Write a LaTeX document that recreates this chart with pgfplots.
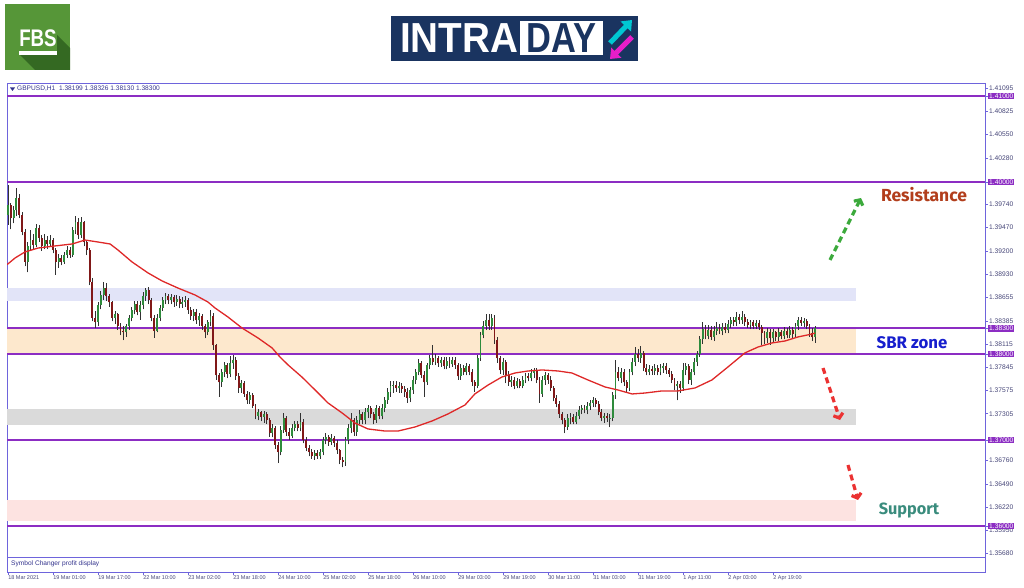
\documentclass[border=0pt]{standalone}
\usepackage{pgfplots}
\pgfplotsset{compat=1.18}
\usepackage{pgfplotstable}
\usepackage{fontspec}
\setmainfont{Liberation Sans}
\newfontfamily\annfont{Fira Sans}
\usetikzlibrary{arrows.meta}

\definecolor{framecol}{RGB}{110,100,220}
\definecolor{lvlcol}{RGB}{140,45,195}
\definecolor{lavband}{RGB}{226,228,248}
\definecolor{orband}{RGB}{253,232,205}
\definecolor{grband}{RGB}{218,218,218}
\definecolor{pkband}{RGB}{253,227,225}
\definecolor{bullcol}{RGB}{46,139,60}
\definecolor{bearcol}{RGB}{128,24,24}
\definecolor{wickcol}{RGB}{50,50,50}
\definecolor{macol}{RGB}{222,40,40}
\definecolor{tickcol}{RGB}{70,70,120}
\definecolor{rescol}{RGB}{178,62,28}
\definecolor{sbrcol}{RGB}{22,30,205}
\definecolor{supcol}{RGB}{58,140,125}
\definecolor{fbsgreen}{RGB}{86,150,56}
\definecolor{fbsdark}{RGB}{52,105,34}
\definecolor{navyb}{RGB}{26,52,96}
\definecolor{cyanar}{RGB}{0,200,210}
\definecolor{magar}{RGB}{230,30,200}
\definecolor{hdrcol}{RGB}{50,50,140}
\definecolor{arrgreen}{RGB}{60,170,60}
\definecolor{arrred}{RGB}{235,50,50}

\pgfplotstableread{
o h l c
1.3962 1.3997 1.3950 1.3973
1.3973 1.3975 1.3945 1.3958
1.3958 1.3972 1.3952 1.3967
1.3967 1.3993 1.3960 1.3981
1.3981 1.3986 1.3958 1.3962
1.3962 1.3965 1.3938 1.3942
1.3942 1.3945 1.3902 1.3907
1.3907 1.3930 1.3895 1.3925
1.3925 1.3944 1.3920 1.3933
1.3933 1.3940 1.3922 1.3927
1.3927 1.3951 1.3924 1.3947
1.3947 1.3950 1.3930 1.3935
1.3935 1.3938 1.3920 1.3926
1.3926 1.3940 1.3922 1.3933
1.3933 1.3937 1.3922 1.3928
1.3928 1.3938 1.3925 1.3932
1.3932 1.3935 1.3917 1.3921
1.3921 1.3923 1.3892 1.3907
1.3907 1.3916 1.3900 1.3912
1.3912 1.3915 1.3903 1.3907
1.3907 1.3918 1.3905 1.3915
1.3915 1.3925 1.3912 1.3921
1.3921 1.3924 1.3912 1.3915
1.3915 1.3948 1.3913 1.3944
1.3944 1.3960 1.3940 1.3953
1.3953 1.3958 1.3934 1.3938
1.3938 1.3959 1.3935 1.3953
1.3953 1.3955 1.3925 1.3930
1.3930 1.3932 1.3915 1.3921
1.3921 1.3923 1.3880 1.3884
1.3884 1.3888 1.3838 1.3842
1.3842 1.3850 1.3830 1.3837
1.3837 1.3860 1.3832 1.3857
1.3857 1.3873 1.3852 1.3869
1.3869 1.3884 1.3863 1.3877
1.3877 1.3882 1.3862 1.3867
1.3867 1.3870 1.3855 1.3860
1.3860 1.3862 1.3838 1.3842
1.3842 1.3850 1.3835 1.3846
1.3846 1.3848 1.3828 1.3832
1.3832 1.3836 1.3822 1.3827
1.3827 1.3832 1.3816 1.3825
1.3825 1.3835 1.3820 1.3832
1.3832 1.3845 1.3828 1.3842
1.3842 1.3855 1.3838 1.3851
1.3851 1.3862 1.3846 1.3858
1.3858 1.3862 1.3845 1.3849
1.3849 1.3862 1.3840 1.3857
1.3857 1.3872 1.3852 1.3867
1.3867 1.3877 1.3862 1.3874
1.3874 1.3878 1.3858 1.3863
1.3863 1.3865 1.3838 1.3842
1.3842 1.3845 1.3819 1.3827
1.3827 1.3846 1.3825 1.3842
1.3842 1.3857 1.3838 1.3853
1.3853 1.3866 1.3850 1.3863
1.3863 1.3871 1.3858 1.3867
1.3867 1.3870 1.3858 1.3863
1.3863 1.3870 1.3858 1.3866
1.3866 1.3868 1.3855 1.3860
1.3860 1.3868 1.3856 1.3864
1.3864 1.3867 1.3853 1.3858
1.3858 1.3866 1.3854 1.3860
1.3860 1.3867 1.3855 1.3863
1.3863 1.3865 1.3847 1.3851
1.3851 1.3855 1.3840 1.3844
1.3844 1.3852 1.3838 1.3849
1.3849 1.3852 1.3835 1.3839
1.3839 1.3848 1.3833 1.3844
1.3844 1.3847 1.3828 1.3832
1.3832 1.3835 1.3818 1.3825
1.3825 1.3840 1.3822 1.3837
1.3837 1.3851 1.3832 1.3844
1.3844 1.3848 1.3805 1.3810
1.3810 1.3812 1.3770 1.3775
1.3775 1.3778 1.3750 1.3767
1.3767 1.3782 1.3762 1.3779
1.3779 1.3791 1.3773 1.3787
1.3787 1.3790 1.3772 1.3777
1.3777 1.3798 1.3773 1.3789
1.3789 1.3799 1.3783 1.3793
1.3793 1.3797 1.3770 1.3774
1.3774 1.3778 1.3755 1.3760
1.3760 1.3770 1.3755 1.3766
1.3766 1.3768 1.3750 1.3754
1.3754 1.3757 1.3742 1.3746
1.3746 1.3756 1.3742 1.3752
1.3752 1.3755 1.3737 1.3740
1.3740 1.3742 1.3724 1.3728
1.3728 1.3736 1.3723 1.3732
1.3732 1.3734 1.3722 1.3727
1.3727 1.3734 1.3720 1.3730
1.3730 1.3732 1.3719 1.3723
1.3723 1.3725 1.3704 1.3708
1.3708 1.3718 1.3703 1.3714
1.3714 1.3716 1.3690 1.3694
1.3694 1.3698 1.3673 1.3686
1.3686 1.3716 1.3682 1.3712
1.3712 1.3731 1.3708 1.3726
1.3726 1.3728 1.3705 1.3709
1.3709 1.3714 1.3700 1.3705
1.3705 1.3718 1.3702 1.3714
1.3714 1.3722 1.3710 1.3719
1.3719 1.3722 1.3710 1.3714
1.3714 1.3731 1.3710 1.3721
1.3721 1.3724 1.3696 1.3700
1.3700 1.3703 1.3687 1.3691
1.3691 1.3694 1.3681 1.3686
1.3686 1.3690 1.3678 1.3681
1.3681 1.3688 1.3677 1.3685
1.3685 1.3688 1.3678 1.3681
1.3681 1.3690 1.3678 1.3686
1.3686 1.3704 1.3682 1.3700
1.3700 1.3708 1.3695 1.3703
1.3703 1.3706 1.3693 1.3698
1.3698 1.3707 1.3694 1.3702
1.3702 1.3705 1.3692 1.3697
1.3697 1.3700 1.3684 1.3688
1.3688 1.3690 1.3672 1.3677
1.3677 1.3680 1.3668 1.3674
1.3674 1.3703 1.3670 1.3700
1.3700 1.3718 1.3695 1.3714
1.3714 1.3731 1.3708 1.3723
1.3723 1.3726 1.3705 1.3709
1.3709 1.3728 1.3705 1.3723
1.3723 1.3735 1.3718 1.3730
1.3730 1.3733 1.3718 1.3723
1.3723 1.3737 1.3718 1.3732
1.3732 1.3741 1.3726 1.3737
1.3737 1.3740 1.3725 1.3730
1.3730 1.3733 1.3718 1.3723
1.3723 1.3741 1.3720 1.3737
1.3737 1.3740 1.3724 1.3728
1.3728 1.3742 1.3724 1.3737
1.3737 1.3750 1.3732 1.3746
1.3746 1.3760 1.3742 1.3756
1.3756 1.3768 1.3750 1.3763
1.3763 1.3769 1.3755 1.3764
1.3764 1.3768 1.3756 1.3760
1.3760 1.3767 1.3755 1.3763
1.3763 1.3766 1.3755 1.3759
1.3759 1.3763 1.3750 1.3756
1.3756 1.3760 1.3743 1.3749
1.3749 1.3762 1.3744 1.3758
1.3758 1.3774 1.3754 1.3770
1.3770 1.3782 1.3765 1.3779
1.3779 1.3794 1.3775 1.3790
1.3790 1.3792 1.3772 1.3776
1.3776 1.3780 1.3750 1.3767
1.3767 1.3790 1.3764 1.3787
1.3787 1.3799 1.3782 1.3795
1.3795 1.3811 1.3787 1.3791
1.3791 1.3800 1.3787 1.3795
1.3795 1.3798 1.3785 1.3789
1.3789 1.3797 1.3785 1.3793
1.3793 1.3796 1.3782 1.3786
1.3786 1.3796 1.3782 1.3792
1.3792 1.3796 1.3784 1.3788
1.3788 1.3797 1.3785 1.3793
1.3793 1.3796 1.3783 1.3787
1.3787 1.3790 1.3770 1.3774
1.3774 1.3788 1.3770 1.3784
1.3784 1.3787 1.3775 1.3779
1.3779 1.3790 1.3775 1.3786
1.3786 1.3788 1.3775 1.3779
1.3779 1.3782 1.3763 1.3767
1.3767 1.3770 1.3756 1.3763
1.3763 1.3799 1.3760 1.3795
1.3795 1.3826 1.3792 1.3822
1.3822 1.3838 1.3818 1.3833
1.3833 1.3847 1.3828 1.3840
1.3840 1.3846 1.3828 1.3832
1.3832 1.3846 1.3828 1.3842
1.3842 1.3845 1.3812 1.3816
1.3816 1.3820 1.3790 1.3795
1.3795 1.3798 1.3777 1.3781
1.3781 1.3795 1.3776 1.3791
1.3791 1.3793 1.3766 1.3776
1.3776 1.3780 1.3763 1.3767
1.3767 1.3774 1.3762 1.3770
1.3770 1.3773 1.3759 1.3763
1.3763 1.3772 1.3760 1.3768
1.3768 1.3771 1.3760 1.3763
1.3763 1.3774 1.3760 1.3770
1.3770 1.3778 1.3766 1.3774
1.3774 1.3778 1.3768 1.3772
1.3772 1.3782 1.3768 1.3778
1.3778 1.3784 1.3772 1.3780
1.3780 1.3784 1.3766 1.3770
1.3770 1.3773 1.3743 1.3754
1.3754 1.3774 1.3750 1.3770
1.3770 1.3779 1.3764 1.3776
1.3776 1.3778 1.3765 1.3770
1.3770 1.3774 1.3757 1.3761
1.3761 1.3763 1.3745 1.3749
1.3749 1.3752 1.3738 1.3742
1.3742 1.3745 1.3726 1.3730
1.3730 1.3733 1.3718 1.3723
1.3723 1.3726 1.3708 1.3715
1.3715 1.3730 1.3712 1.3726
1.3726 1.3731 1.3718 1.3727
1.3727 1.3730 1.3718 1.3721
1.3721 1.3732 1.3718 1.3728
1.3728 1.3739 1.3724 1.3735
1.3735 1.3741 1.3730 1.3737
1.3737 1.3741 1.3731 1.3735
1.3735 1.3744 1.3730 1.3739
1.3739 1.3747 1.3735 1.3743
1.3743 1.3750 1.3738 1.3746
1.3746 1.3749 1.3738 1.3742
1.3742 1.3745 1.3729 1.3733
1.3733 1.3736 1.3722 1.3726
1.3726 1.3731 1.3720 1.3728
1.3728 1.3731 1.3721 1.3725
1.3725 1.3730 1.3715 1.3726
1.3726 1.3756 1.3722 1.3752
1.3752 1.3793 1.3748 1.3779
1.3779 1.3785 1.3768 1.3772
1.3772 1.3784 1.3766 1.3779
1.3779 1.3783 1.3763 1.3767
1.3767 1.3770 1.3755 1.3760
1.3760 1.3783 1.3757 1.3779
1.3779 1.3795 1.3775 1.3791
1.3791 1.3808 1.3786 1.3800
1.3800 1.3806 1.3791 1.3795
1.3795 1.3809 1.3790 1.3801
1.3801 1.3804 1.3780 1.3784
1.3784 1.3788 1.3775 1.3779
1.3779 1.3787 1.3775 1.3783
1.3783 1.3786 1.3776 1.3780
1.3780 1.3788 1.3776 1.3784
1.3784 1.3787 1.3775 1.3779
1.3779 1.3788 1.3775 1.3784
1.3784 1.3790 1.3778 1.3786
1.3786 1.3789 1.3777 1.3781
1.3781 1.3784 1.3773 1.3777
1.3777 1.3780 1.3766 1.3770
1.3770 1.3772 1.3758 1.3763
1.3763 1.3768 1.3746 1.3765
1.3765 1.3768 1.3755 1.3760
1.3760 1.3790 1.3757 1.3781
1.3781 1.3790 1.3775 1.3786
1.3786 1.3788 1.3765 1.3770
1.3770 1.3782 1.3764 1.3779
1.3779 1.3795 1.3775 1.3791
1.3791 1.3804 1.3786 1.3800
1.3800 1.3821 1.3797 1.3817
1.3817 1.3837 1.3812 1.3829
1.3829 1.3834 1.3817 1.3821
1.3821 1.3834 1.3817 1.3828
1.3828 1.3832 1.3816 1.3820
1.3820 1.3832 1.3815 1.3827
1.3827 1.3837 1.3822 1.3830
1.3830 1.3835 1.3823 1.3827
1.3827 1.3836 1.3822 1.3831
1.3831 1.3836 1.3824 1.3828
1.3828 1.3839 1.3824 1.3835
1.3835 1.3843 1.3830 1.3839
1.3839 1.3843 1.3832 1.3837
1.3837 1.3849 1.3832 1.3843
1.3843 1.3847 1.3835 1.3839
1.3839 1.3850 1.3835 1.3843
1.3843 1.3847 1.3833 1.3837
1.3837 1.3841 1.3830 1.3834
1.3834 1.3840 1.3829 1.3837
1.3837 1.3840 1.3829 1.3833
1.3833 1.3840 1.3829 1.3836
1.3836 1.3839 1.3828 1.3831
1.3831 1.3834 1.3811 1.3824
1.3824 1.3827 1.3812 1.3818
1.3818 1.3830 1.3813 1.3826
1.3826 1.3829 1.3811 1.3818
1.3818 1.3829 1.3814 1.3825
1.3825 1.3827 1.3815 1.3820
1.3820 1.3830 1.3815 1.3826
1.3826 1.3828 1.3817 1.3821
1.3821 1.3831 1.3817 1.3827
1.3827 1.3830 1.3818 1.3822
1.3822 1.3832 1.3818 1.3828
1.3828 1.3831 1.3819 1.3823
1.3823 1.3836 1.3820 1.3833
1.3833 1.3843 1.3828 1.3839
1.3839 1.3843 1.3832 1.3836
1.3836 1.3842 1.3831 1.3838
1.3838 1.3841 1.3829 1.3833
1.3833 1.3835 1.3820 1.3824
1.3824 1.3830 1.3815 1.38199
1.38199 1.38326 1.38130 1.38300
}\candles

\begin{document}
\begin{tikzpicture}[x=1pt,y=1pt]
\useasboundingbox (0pt,0pt) rectangle (1024pt,587pt);

% ---------- main chart ----------
\begin{axis}[
  at={(7pt,30pt)}, anchor=south west,
  scale only axis, width=978pt, height=474pt,
  xmin=-0.36, xmax=347.4, ymin=1.35639, ymax=1.41151,
  axis line style={framecol, line width=0.9pt},
  xtick=\empty,
  ytick={1.41095,1.40825,1.40550,1.40280,1.39740,1.39470,1.39200,1.38930,1.38655,1.38385,1.38115,1.37845,1.37575,1.37305,1.36760,1.36490,1.36220,1.35950,1.35680},
  yticklabels={1.41095,1.40825,1.40550,1.40280,1.39740,1.39470,1.39200,1.38930,1.38655,1.38385,1.38115,1.37845,1.37575,1.37305,1.36760,1.36490,1.36220,1.35950,1.35680},
  ytick pos=right, yticklabel pos=right,
  tick align=outside, major tick length=3pt,
  tick style={framecol, line width=0.5pt},
  /pgf/number format/assume math mode=true,
  yticklabel style={font=\fontsize{6.7}{7.5}\selectfont, text=tickcol, inner sep=0.8pt},
  extra y ticks={1.41,1.40,1.383,1.38,1.37,1.36},
  extra y tick labels={1.41000,1.40000,1.38300,1.38000,1.37000,1.36000},
  extra y tick style={yticklabel style={fill=lvlcol, text=white, font=\fontsize{6.7}{7.5}\selectfont, inner sep=1pt}},
]
% zones
\addplot[fill=lavband, draw=none] coordinates {(-0.36,1.38616) (301.5,1.38616) (301.5,1.38767) (-0.36,1.38767)} -- cycle;
\addplot[fill=orband, draw=none] coordinates {(-0.36,1.3800) (301.5,1.3800) (301.5,1.3830) (-0.36,1.3830)} -- cycle;
\addplot[fill=grband, draw=none] coordinates {(-0.36,1.37174) (301.5,1.37174) (301.5,1.37360) (-0.36,1.37360)} -- cycle;
\addplot[fill=pkband, draw=none] coordinates {(-0.36,1.36058) (301.5,1.36058) (301.5,1.36302) (-0.36,1.36302)} -- cycle;
% levels
\addplot[lvlcol, line width=1.4pt] coordinates {(-0.36,1.41) (347.4,1.41)};
\addplot[lvlcol, line width=1.4pt] coordinates {(-0.36,1.40) (347.4,1.40)};
\addplot[lvlcol, line width=1.4pt] coordinates {(-0.36,1.383) (347.4,1.383)};
\addplot[lvlcol, line width=1.4pt] coordinates {(-0.36,1.38) (347.4,1.38)};
\addplot[lvlcol, line width=1.4pt] coordinates {(-0.36,1.37) (347.4,1.37)};
\addplot[lvlcol, line width=1.4pt] coordinates {(-0.36,1.36) (347.4,1.36)};
% wicks
\addplot[only marks, mark=*, mark size=0pt, mark options={draw=none, fill=none},
  error bars/.cd, y dir=plus, y explicit, error mark=none,
  error bar style={draw=wickcol, line width=0.75pt}]
  table[x expr=\coordindex, y=l, y error expr={\thisrow{h}-\thisrow{l}}] {\candles};
% bull bodies
\addplot[only marks, mark=*, mark size=0pt, mark options={draw=none, fill=none},
  error bars/.cd, y dir=plus, y explicit, error mark=none,
  error bar style={draw=bullcol, line width=1.9pt}]
  table[x expr=\coordindex, y=o, y error expr={max(\thisrow{c}-\thisrow{o},0)}] {\candles};
% bear bodies
\addplot[only marks, mark=*, mark size=0pt, mark options={draw=none, fill=none},
  error bars/.cd, y dir=plus, y explicit, error mark=none,
  error bar style={draw=bearcol, line width=1.9pt}]
  table[x expr=\coordindex, y=c, y error expr={max(\thisrow{o}-\thisrow{c},0)}] {\candles};
% moving average
\addplot[macol, line width=1.3pt, line join=round] coordinates {
(-0.3,1.39040) (2.5,1.39116) (6.0,1.39186) (10.7,1.39232) (16.7,1.39256) (22.8,1.39279) (27.4,1.39325) (32.0,1.39302) (36.3,1.39279) (39.1,1.39209) (44.1,1.39070) (49.8,1.38942) (54.8,1.38849) (60.4,1.38767) (66.5,1.38686) (71.1,1.38604) (73.6,1.38535) (78.2,1.38430) (83.2,1.38302) (88.9,1.38186) (93.9,1.38070) (96.7,1.37965) (99.6,1.37872) (104.5,1.37732) (109.2,1.37581) (113.8,1.37430) (118.8,1.37314) (123.4,1.37197) (128.0,1.37128) (134.0,1.37104) (138.7,1.37104) (144.7,1.37151) (150.8,1.37221) (156.4,1.37302) (162.5,1.37407) (166.0,1.37535) (170.7,1.37639) (175.6,1.37732) (180.3,1.37779) (184.9,1.37802) (189.9,1.37814) (195.6,1.37802) (200.5,1.37779) (206.2,1.37698) (212.3,1.37616) (216.9,1.37581) (221.9,1.37535) (226.5,1.37546) (232.5,1.37570) (238.2,1.37570) (244.3,1.37605) (250.3,1.37698) (256.0,1.37849) (262.0,1.38012) (266.7,1.38081) (271.6,1.38128) (276.3,1.38151) (280.9,1.38198) (285.9,1.38232) (287,1.38244)};
\end{axis}

% ---------- sub window with time axis ----------
\begin{axis}[
  at={(7pt,15pt)}, anchor=south west,
  scale only axis, width=978pt, height=15pt,
  xmin=-0.36, xmax=347.4, ymin=0, ymax=1,
  axis line style={framecol, line width=0.9pt},
  ytick=\empty,
  xtick={0,16,32,48,64,80,96,112,128,144,160,176,192,208,224,240,256,272},
  xticklabels={18 Mar 2021,19 Mar 01:00,19 Mar 17:00,22 Mar 10:00,23 Mar 02:00,23 Mar 18:00,24 Mar 10:00,25 Mar 02:00,25 Mar 18:00,26 Mar 10:00,29 Mar 03:00,29 Mar 19:00,30 Mar 11:00,31 Mar 03:00,31 Mar 19:00,1 Apr 11:00,2 Apr 03:00,2 Apr 19:00},
  xtick pos=bottom, tick align=outside, major tick length=3pt,
  tick style={framecol, line width=0.5pt},
  xticklabel style={font=\fontsize{5.5}{6}\selectfont, text=tickcol, anchor=north west, inner sep=0.6pt, xshift=-0.5pt},
]
\end{axis}

% ---------- header texts ----------
\fill[hdrcol] (10pt,499.5pt) -- (15pt,499.5pt) -- (12.5pt,496pt) -- cycle;
\node[anchor=west, inner sep=0, text=hdrcol, font=\fontsize{6.6}{7.5}\selectfont] at (17pt,498pt) {GBPUSD,H1\ \ 1.38199 1.38326 1.38130 1.38300};
\node[anchor=west, inner sep=0, text=hdrcol, font=\fontsize{6.6}{7.5}\selectfont] at (11pt,23pt) {Symbol Changer profit display};

% ---------- annotations ----------
\node[text=rescol, font=\annfont\bfseries\fontsize{17.5}{19}\selectfont] at (924pt,392pt) {Resistance};
\node[text=sbrcol, font=\annfont\bfseries\fontsize{16.8}{18}\selectfont] at (912pt,244pt) {SBR zone};
\node[text=supcol, font=\annfont\bfseries\fontsize{16.3}{18}\selectfont] at (909pt,76pt) {Support};

\draw[arrgreen, line width=3.2pt, dash pattern=on 6pt off 4pt, -{Straight Barb[length=4pt,width=10pt]}] (830pt,327pt) -- (861pt,389pt);
\draw[arrred, line width=3.2pt, dash pattern=on 6pt off 4pt, -{Straight Barb[length=4pt,width=10pt]}] (823pt,219pt) -- (840pt,167pt);
\draw[arrred, line width=3.2pt, dash pattern=on 6pt off 4pt, -{Straight Barb[length=4pt,width=10pt]}] (848pt,122pt) -- (858pt,87pt);

% ---------- logos ----------
\fill[fbsgreen] (5pt,517pt) rectangle (70pt,583pt);
\fill[fbsdark] (19pt,533pt) -- (57pt,533pt) -- (57pt,552pt) -- (70pt,539pt) -- (70pt,517pt) -- (35pt,517pt) -- cycle;
\node[text=white, font=\bfseries\fontsize{24}{26}\selectfont, xscale=0.78, inner sep=0] at (38pt,549pt) {FBS};
\fill[white] (19pt,532pt) rectangle (57pt,535.5pt);

\fill[navyb] (391pt,526pt) rectangle (638pt,571pt);
\node[text=white, font=\bfseries\fontsize{42}{44}\selectfont, xscale=0.92, inner sep=0, anchor=west] at (400pt,548.5pt) {INTRA};
\fill[white] (520pt,532pt) rectangle (603pt,566pt);
\node[text=navyb, font=\bfseries\fontsize{42}{44}\selectfont, xscale=0.82, inner sep=0] at (561.5pt,548.5pt) {DAY};
\draw[cyanar, line width=5pt, -{Triangle[length=9pt,width=14pt]}] (610pt,544pt) -- (632pt,567pt);
\draw[magar, line width=5pt, -{Triangle[length=9pt,width=14pt]}] (632pt,550pt) -- (610pt,528pt);
\end{tikzpicture}
\end{document}
